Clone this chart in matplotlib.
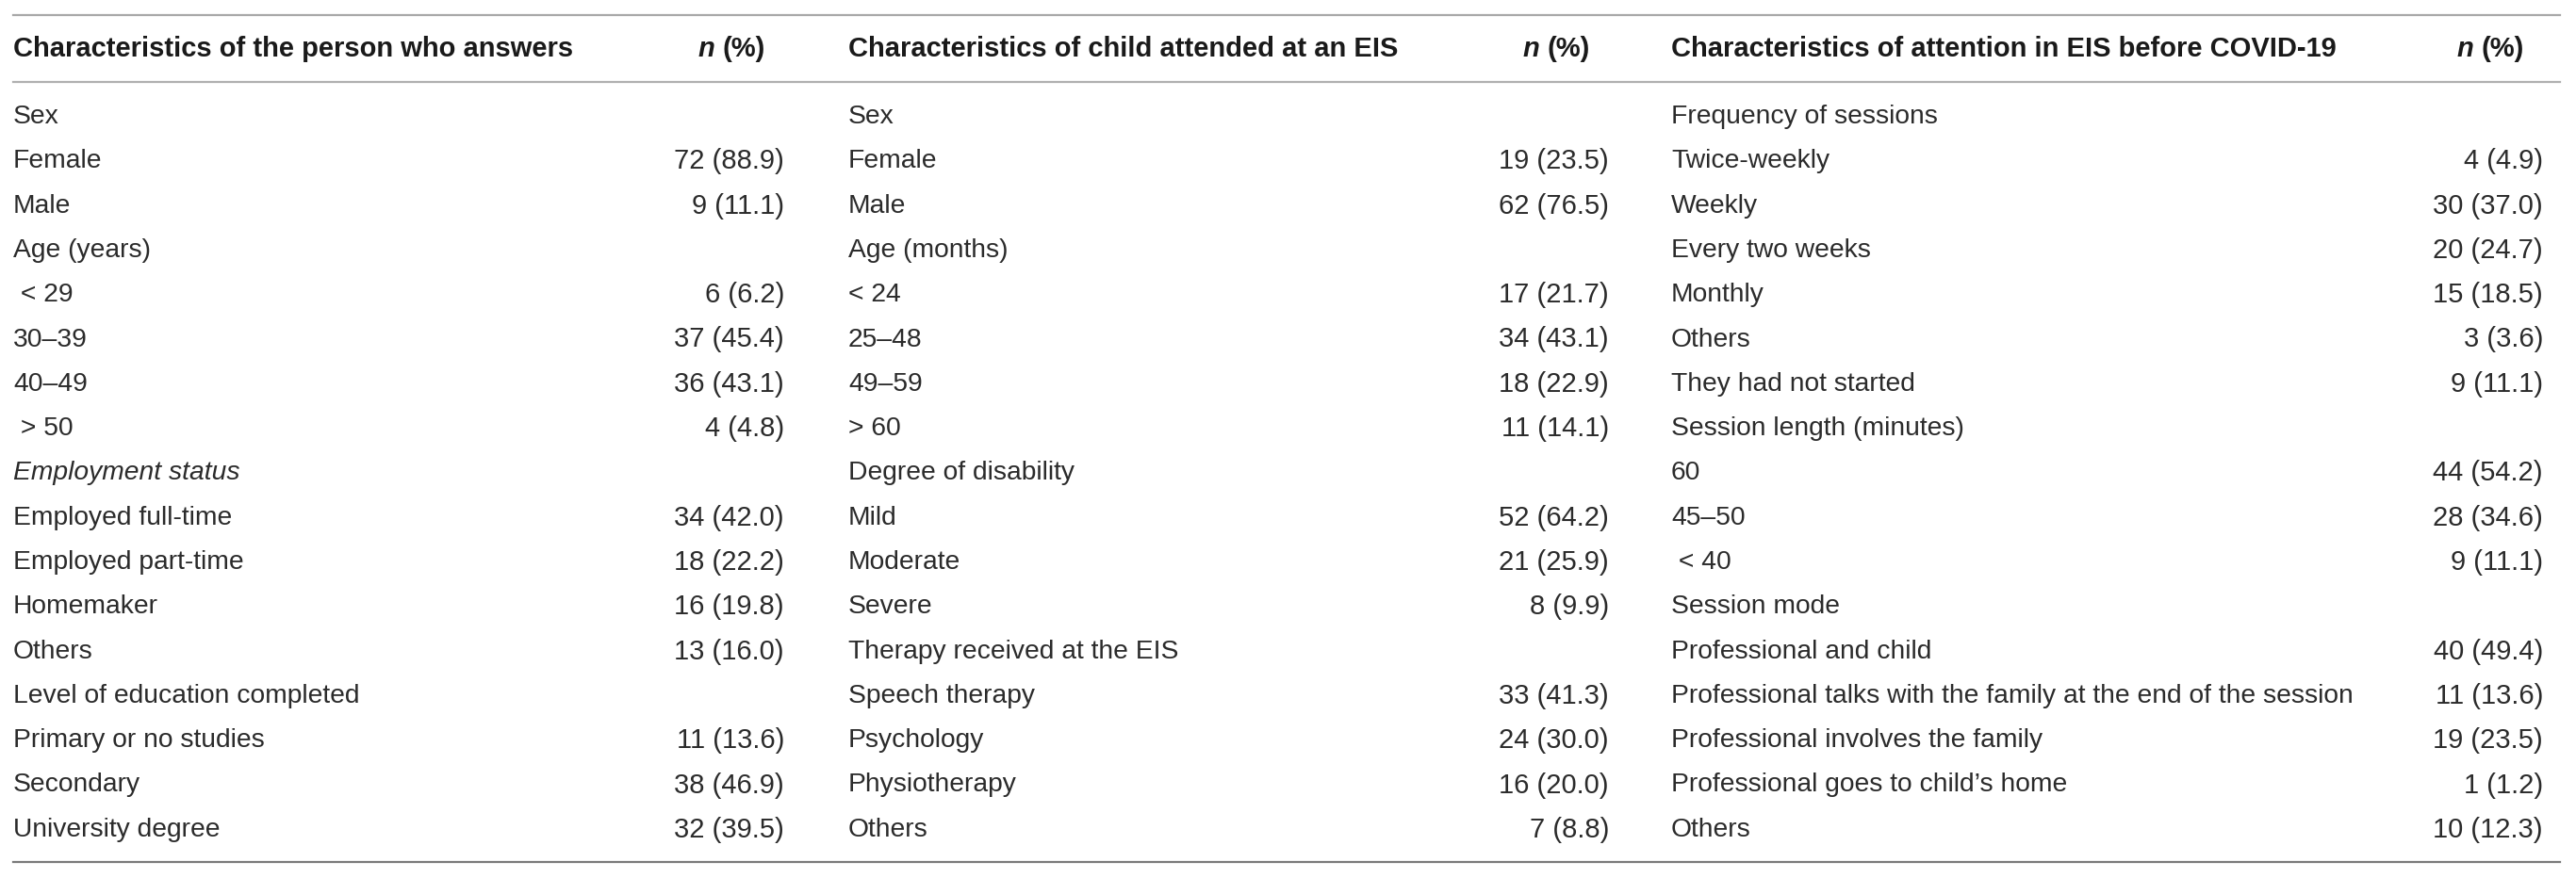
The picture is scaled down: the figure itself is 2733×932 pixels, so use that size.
import matplotlib.pyplot as plt

# column 1: characteristics of the person who answers
labels_1 = ["Sex", "Female", "Male", "Age (years)", " < 29", "30–39", "40–49", " > 50",
            "Employment status", "Employed full-time", "Employed part-time", "Homemaker",
            "Others", "Level of education completed", "Primary or no studies", "Secondary",
            "University degree"]
counts_1 = [None, 72, 9, None, 6, 37, 36, 4, None, 34, 18, 16, 13, None, 11, 38, 32]
pcts_1 = [None, 88.9, 11.1, None, 6.2, 45.4, 43.1, 4.8, None, 42.0, 22.2, 19.8, 16.0,
          None, 13.6, 46.9, 39.5]

# column 2: characteristics of child attended at an EIS
labels_2 = ["Sex", "Female", "Male", "Age (months)", "< 24", "25–48", "49–59", "> 60",
            "Degree of disability", "Mild", "Moderate", "Severe", "Therapy received at the EIS",
            "Speech therapy", "Psychology", "Physiotherapy", "Others"]
counts_2 = [None, 19, 62, None, 17, 34, 18, 11, None, 52, 21, 8, None, 33, 24, 16, 7]
pcts_2 = [None, 23.5, 76.5, None, 21.7, 43.1, 22.9, 14.1, None, 64.2, 25.9, 9.9, None,
          41.3, 30.0, 20.0, 8.8]

# column 3: characteristics of attention in EIS before COVID-19
labels_3 = ["Frequency of sessions", "Twice-weekly", "Weekly", "Every two weeks", "Monthly",
            "Others", "They had not started", "Session length (minutes)", "60", "45–50",
            " < 40", "Session mode", "Professional and child",
            "Professional talks with the family at the end of the session",
            "Professional involves the family", "Professional goes to child’s home", "Others"]
counts_3 = [None, 4, 30, 20, 15, 3, 9, None, 44, 28, 9, None, 40, 11, 19, 1, 10]
pcts_3 = [None, 4.9, 37.0, 24.7, 18.5, 3.6, 11.1, None, 54.2, 34.6, 11.1, None, 49.4,
          13.6, 23.5, 1.2, 12.3]

headers = ["Characteristics of the person who answers",
           "Characteristics of child attended at an EIS",
           "Characteristics of attention in EIS before COVID-19"]

plt.rcParams['font.family'] = ['Liberation Sans', 'DejaVu Sans']
plt.rcParams['mathtext.fontset'] = 'custom'
plt.rcParams['mathtext.bfit'] = 'Liberation Sans:bold:italic'

W, H = 2733, 932
fig = plt.figure(figsize=(W / 100, H / 100), dpi=100)
ax = fig.add_axes([0, 0, 1, 1])
ax.set_xlim(0, W)
ax.set_ylim(H, 0)
ax.axis('off')

fs_label = 20.3
fs_value = 21
fs_head = 21
body_color = '#2b2b2b'
label_x = [14, 900, 1773]
value_x = [832, 1707, 2698]
row_y0, row_step = 124, 47.3
header_y = 52

columns = [(labels_1, counts_1, pcts_1), (labels_2, counts_2, pcts_2),
           (labels_3, counts_3, pcts_3)]

for c, (labels, counts, pcts) in enumerate(columns):
    ax.text(label_x[c], header_y, headers[c], fontsize=fs_head, fontweight='bold',
            color='#1a1a1a', ha='left', va='center')
    # "n (%)" header: italic bold n followed by bold (%)
    t = ax.text(value_x[c] - 20, header_y, "(%)", fontsize=fs_head, fontweight='bold',
                color='#1a1a1a', ha='right', va='center')
    ax.annotate("n ", xy=(0, 0.5), xycoords=t, ha='right', va='center',
                fontsize=fs_head, fontweight='bold', fontstyle='italic', color='#1a1a1a')
    for i, lab in enumerate(labels):
        y = row_y0 + i * row_step
        style = 'italic' if lab == "Employment status" else 'normal'
        ax.text(label_x[c], y, lab, fontsize=fs_label, color=body_color, ha='left',
                va='center', fontstyle=style)
        if counts[i] is not None:
            ax.text(value_x[c], y, f"{counts[i]} ({pcts[i]:.1f})", fontsize=fs_value,
                    color=body_color, ha='right', va='center')

# horizontal rules
ax.plot([14, 2716], [16, 16], color='#a8a8a8', lw=1.6)
ax.plot([14, 2716], [87, 87], color='#b0b0b0', lw=1.6)
ax.plot([14, 2716], [915, 915], color='#7a7a7a', lw=1.6)

fig.savefig('out.png', dpi=100)
